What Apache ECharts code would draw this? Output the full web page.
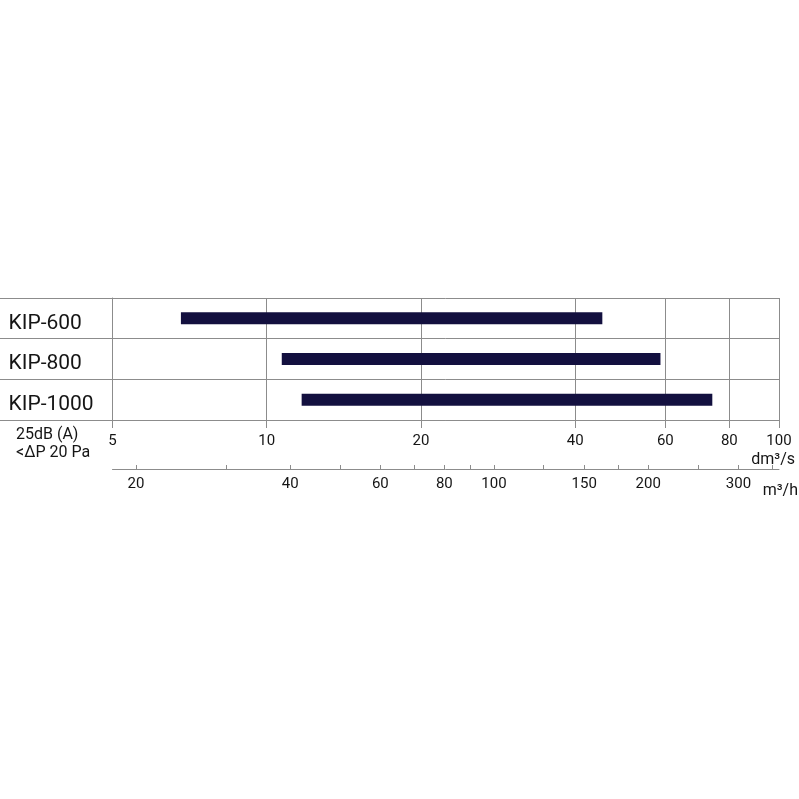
<!DOCTYPE html>
<html>
<head>
<meta charset="utf-8">
<title>KIP air flow ranges</title>
<script src="https://cdn.jsdelivr.net/npm/echarts@6/dist/echarts.min.js"></script>
<style>
  html, body { margin: 0; padding: 0; background: #fff; }
  #main { width: 799px; height: 799px; }
</style>
</head>
<body>
<div id="main"></div>
<script>
// models and their flow range (dm3/s) at 25 dB(A)
var models = ['KIP-600', 'KIP-800', 'KIP-1000'];
var flowMin = [6.8, 10.7, 11.7];
var flowMax = [45.2, 58.7, 74.1];

// dm3/s axis
var dmTicks = [5, 10, 20, 40, 60, 80, 100];
// m3/h axis
var m3Ticks = [20, 30, 40, 50, 60, 70, 80, 90, 100, 125, 150, 175, 200, 250, 300, 350];
var m3Labels = [20, 40, 60, 80, 100, 150, 200, 300];

var fontFam = 'Roboto';
var txt = '#151515';
var lineCol = '#8c8c8c';

var myChart = echarts.init(document.getElementById('main'));

var barData = models.map(function (m, i) {
	return [i, flowMin[i], flowMax[i]];
});

var option = {
	animation: false,
	grid: {
		left: 112.5,
		right: 20,
		top: 298,
		bottom: 379
	},
	xAxis: [{
			type: 'log',
			min: 5,
			max: 100,
			position: 'bottom',
			axisLine: { show: true, lineStyle: { color: lineCol } },
			axisTick: { show: true, length: 8, customValues: dmTicks, lineStyle: { color: lineCol } },
			splitLine: { show: true, lineStyle: { color: lineCol } },
			axisLabel: {
				customValues: dmTicks,
				margin: 14,
				color: txt,
				fontFamily: fontFam,
				fontSize: 15
			}
		},
		{
			type: 'log',
			min: 18,
			max: 360,
			position: 'bottom',
			offset: 49,
			axisLine: { show: true, lineStyle: { color: lineCol } },
			axisTick: { show: true, inside: true, length: 4, customValues: m3Ticks, lineStyle: { color: lineCol } },
			splitLine: { show: false },
			axisLabel: {
				customValues: m3Labels,
				margin: 8,
				color: txt,
				fontFamily: fontFam,
				fontSize: 15
			}
		}
	],
	yAxis: {
		type: 'category',
		data: models,
		inverse: true,
		axisLine: { show: true, lineStyle: { color: lineCol } },
		axisTick: { show: true, length: 112.5, lineStyle: { color: lineCol } },
		splitLine: { show: true, lineStyle: { color: lineCol } },
		axisLabel: {
			align: 'left',
			verticalAlign: 'top',
			lineHeight: 10,
			margin: 104,
			color: txt,
			fontFamily: fontFam,
			fontSize: 21
		}
	},
	graphic: [
		{ type: 'text', left: 16, top: 427, style: { text: '25dB (A)', fill: txt, font: '16px Roboto' } },
		{ type: 'text', left: 16, top: 445, style: { text: '<ΔP 20 Pa', fill: txt, font: '16px Roboto' } },
		{ type: 'text', right: 4, top: 452, style: { text: 'dm³/s', fill: txt, font: '16px Roboto' } },
		{ type: 'text', right: 1, top: 483, style: { text: 'm³/h', fill: txt, font: '16px Roboto' } }
	],
	series: [{
		type: 'custom',
		xAxisIndex: 0,
		data: barData,
		encode: { x: [1, 2], y: 0 },
		renderItem: function (params, api) {
			var a = api.coord([api.value(1), api.value(0)]);
			var b = api.coord([api.value(2), api.value(0)]);
			var h = 12;
			return {
				type: 'rect',
				shape: { x: a[0], y: a[1] - h / 2, width: b[0] - a[0], height: h },
				style: { fill: '#13103f' }
			};
		}
	}]
};

myChart.setOption(option);
</script>
</body>
</html>
